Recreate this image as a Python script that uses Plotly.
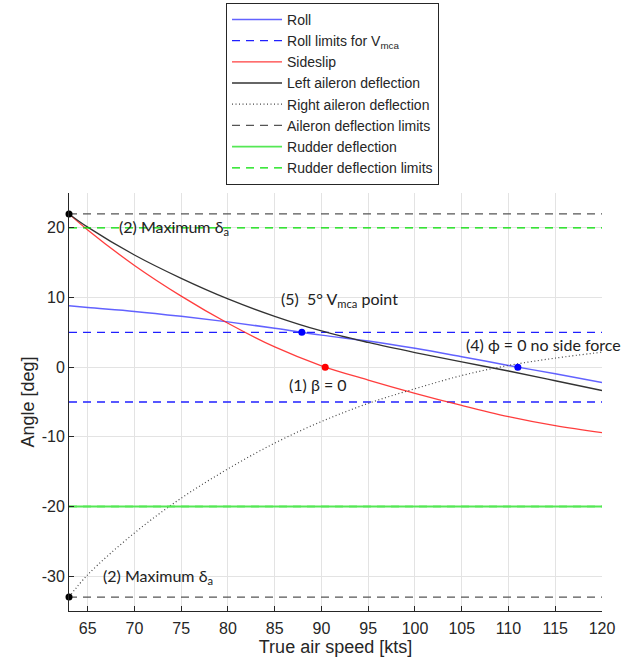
import plotly.graph_objects as go

# Airspeed samples [kts]
speed = [63, 65, 70, 75, 80, 85, 90, 95, 100, 105, 110, 115, 120]

# Angles [deg] at each airspeed
roll = [8.8, 8.55, 8.0, 7.3, 6.5, 5.6, 4.6, 3.75, 2.7, 1.5, 0.25, -0.95, -2.2]
sideslip = [22.0, 19.7, 14.6, 10.2, 6.3, 2.9, 0.2, -1.85, -3.75, -5.5, -7.1, -8.4, -9.4]
left_aileron = [22.0, 20.1, 16.1, 12.75, 9.8, 7.3, 5.2, 3.55, 2.1, 0.75, -0.55, -1.95, -3.35]
right_aileron = [-33.0, -29.8, -23.8, -18.8, -14.6, -10.9, -7.8, -5.2, -3.1, -1.2, 0.25, 1.3, 2.15]
rudder = [-20.0] * len(speed)

# Limits [deg]
roll_limits = [5.0, -5.0]
aileron_limits = [22.0, -33.0]
rudder_limits = [20.0, -20.0]

# Highlighted points (speed, angle)
max_aileron_pts = ([63, 63], [22.0, -33.0])
roll_pts = ([87.9, 111.0], [5.0, 0.0])
beta_zero_pt = ([90.4], [0.0])

# Axis ticks
x_ticks = list(range(65, 121, 5))
y_ticks = [-30, -20, -10, 0, 10, 20]
y_tick_text = ["-30", "-20", "-10", "0", "10", "20"]

x_min, x_max = 63, 120
y_min, y_max = -35, 25


def hlines(levels):
    xs, ys = [], []
    for v in levels:
        xs += [x_min, x_max, None]
        ys += [v, v, None]
    return xs, ys


fig = go.Figure()

lx, ly = hlines(roll_limits)
ax_, ay_ = hlines(aileron_limits)
rx, ry = hlines(rudder_limits)

fig.add_trace(go.Scatter(x=speed, y=roll, mode="lines", name="Roll",
                         line=dict(color="rgba(70,70,255,0.85)", width=1.5, shape="spline")))
fig.add_trace(go.Scatter(x=lx, y=ly, mode="lines", name="Roll limits for V<sub>mca</sub>",
                         line=dict(color="#2020ff", width=1.3, dash="8px,6px")))
fig.add_trace(go.Scatter(x=speed, y=sideslip, mode="lines", name="Sideslip",
                         line=dict(color="rgba(255,40,40,0.9)", width=1.3, shape="spline")))
fig.add_trace(go.Scatter(x=speed, y=left_aileron, mode="lines", name="Left aileron deflection",
                         line=dict(color="#333333", width=1.3, shape="spline")))
fig.add_trace(go.Scatter(x=speed, y=right_aileron, mode="lines", name="Right aileron deflection",
                         line=dict(color="#444444", width=1.2, dash="1px,2.5px", shape="spline")))
fig.add_trace(go.Scatter(x=ax_, y=ay_, mode="lines", name="Aileron deflection limits",
                         line=dict(color="#555555", width=1.3, dash="8px,6px")))
fig.add_trace(go.Scatter(x=rx, y=ry, mode="lines", name="Rudder deflection limits",
                         line=dict(color="#00e000", width=1.3, dash="8px,6px"), showlegend=False,
                         legendgroup="rl"))
fig.add_trace(go.Scatter(x=speed, y=rudder, mode="lines", name="Rudder deflection",
                         line=dict(color="#55e855", width=1.8)))
# legend entry for the dashed rudder limits (listed after the solid rudder entry)
fig.add_trace(go.Scatter(x=[None], y=[None], mode="lines", name="Rudder deflection limits",
                         line=dict(color="#00e000", width=1.3, dash="8px,6px"), legendgroup="rl"))

fig.add_trace(go.Scatter(x=max_aileron_pts[0], y=max_aileron_pts[1], mode="markers",
                         marker=dict(color="black", size=7), showlegend=False, cliponaxis=False))
fig.add_trace(go.Scatter(x=roll_pts[0], y=roll_pts[1], mode="markers",
                         marker=dict(color="#0000ff", size=7), showlegend=False))
fig.add_trace(go.Scatter(x=beta_zero_pt[0], y=beta_zero_pt[1], mode="markers",
                         marker=dict(color="#ff0000", size=7), showlegend=False))

note_font = dict(family="Lato, Open Sans, sans-serif", size=16, color="#222222")
notes = [
    (68.1, 20.0, "(2) Maximum δ<sub>a</sub>"),
    (66.4, -30.1, "(2) Maximum δ<sub>a</sub>"),
    (85.5, 9.7, "(5)  5° V<sub>mca</sub> point"),
    (105.2, 3.3, "(4) ϕ = 0 no side force"),
    (86.3, -2.5, "(1) β = 0"),
]
for x, y, t in notes:
    fig.add_annotation(x=x, y=y, text=t, showarrow=False, xanchor="left", yanchor="middle",
                       font=note_font)

sans = "Liberation Sans, Arial, sans-serif"
axis_common = dict(
    showgrid=True, gridcolor="#e3e3e3", gridwidth=1,
    showline=True, linecolor="#262626", linewidth=1,
    ticks="inside", ticklen=5, tickcolor="#262626",
    tickfont=dict(family=sans, size=16, color="#262626"),
    zeroline=False,
)

fig.update_layout(
    width=633, height=661,
    margin=dict(l=69, r=31, t=193, b=50, autoexpand=False),
    paper_bgcolor="white", plot_bgcolor="white",
    showlegend=True,
    legend=dict(
        x=0.2946, y=1.455, xanchor="left", yanchor="top",
        bordercolor="#262626", borderwidth=1, bgcolor="white",
        font=dict(family=sans, size=14, color="#262626"),
        tracegroupgap=0, itemwidth=50,
    ),
    xaxis=dict(axis_common, range=[x_min, x_max], tickvals=x_ticks, ticklabelstandoff=3,
               title=dict(text="True air speed [kts]", standoff=4,
                          font=dict(family=sans, size=18, color="#262626"))),
    yaxis=dict(axis_common, range=[y_min, y_max], tickvals=y_ticks, ticktext=y_tick_text,
               title=dict(text="Angle [deg]", standoff=2,
                          font=dict(family=sans, size=18, color="#262626"))),
)

fig.write_html("out.html")
